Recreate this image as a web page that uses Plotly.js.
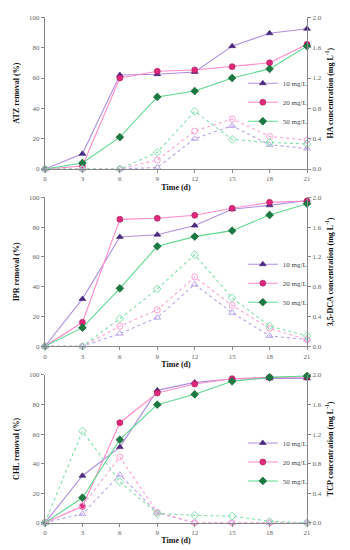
<!DOCTYPE html>
<html><head><meta charset="utf-8">
<script src="https://cdn.plot.ly/plotly-3.0.1.min.js"></script>
<style>html,body{margin:0;padding:0;background:#fff}#chart{width:350px;height:550px}</style>
</head><body><div id="chart"></div>
<script>
const days = [0, 3, 6, 9, 12, 15, 18, 21];
const seriesNames = ["10 mg/L", "20 mg/L", "50 mg/L"];

// Panel 1: ATZ removal (%) and HA concentration (mg/L)
const atz10 = [0, 10, 62, 62.5, 64, 81, 89.5, 92.5];
const atz20 = [0, 2, 60, 64.4, 65.3, 67.5, 70, 82.2];
const atz50 = [0, 4, 21, 47.5, 51.4, 60, 66, 81];
const ha10 = [0, 0, 0, 0.02, 0.40, 0.57, 0.32, 0.27];
const ha20 = [0, 0, 0, 0.12, 0.50, 0.66, 0.43, 0.38];
const ha50 = [0, 0, 0, 0.22, 0.76, 0.39, 0.35, 0.33];

// Panel 2: IPR removal (%) and 3,5-DCA concentration (mg/L)
const ipr10 = [0, 31.8, 73.4, 74.9, 81, 92, 94.6, 97.8];
const ipr20 = [0, 16.1, 85.2, 85.9, 87.9, 92.6, 96.6, 97.5];
const ipr50 = [0, 12.5, 38.9, 67.1, 73.6, 77.6, 88.1, 95.7];
const dca10 = [0, 0, 0.17, 0.385, 0.83, 0.45, 0.14, 0.09];
const dca20 = [0, 0, 0.27, 0.49, 0.93, 0.55, 0.24, 0.09];
const dca50 = [0, 0, 0.37, 0.77, 1.23, 0.65, 0.27, 0.14];

// Panel 3: CHL removal (%) and TCP concentration (mg/L)
const chl10 = [0, 31.8, 51.2, 89.6, 95, 97.3, 97.7, 97.7];
const chl20 = [0, 11, 67.7, 87.8, 93.9, 97.5, 98.4, 98.6];
const chl50 = [0, 16.9, 56.2, 79.9, 86.9, 95.7, 98.4, 99.3];
const tcp10 = [0, 0.12, 0.65, 0.135, 0, 0, 0, 0];
const tcp20 = [0, 0.23, 0.89, 0.14, 0, 0, 0, 0];
const tcp50 = [0, 1.24, 0.555, 0.126, 0.10, 0.09, 0.02, 0];

const xTicks = [0, 3, 6, 9, 12, 15, 18, 21];
const yTicksL = [0, 20, 40, 60, 80, 100];
const yTicksR = [0, 0.4, 0.8, 1.2, 1.6, 2.0];
const leftTitles = ["ATZ removal (%)", "IPR removal (%)", "CHL removal (%)"];
const rightTitles = ["HA concentration (mg L<sup>-1</sup>)", "3,5-DCA concentration (mg L<sup>-1</sup>)", "TCP concentration (mg L<sup>-1</sup>)"];
const xTitle = "Time (d)";

const lineCol = ["#b08ee0", "#ff8ccb", "#5fd88e"];
const markCol = ["#4b2a85", "#e0287c", "#1a7a42"];
const markLine = ["#3a1f6a", "#a81a5a", "#0f5a2e"];
const dashCol = ["#b9a2ea", "#ffa2d4", "#7fe0a8"];
const symbols = ["triangle-up", "circle", "diamond"];
const openSym = ["triangle-up-open", "circle-open", "diamond-open"];

const panels = [
  {rem: [atz10, atz20, atz50], conc: [ha10, ha20, ha50]},
  {rem: [ipr10, ipr20, ipr50], conc: [dca10, dca20, dca50]},
  {rem: [chl10, chl20, chl50], conc: [tcp10, tcp20, tcp50]}
];

const domains = [[0.6927, 0.9685], [0.3704, 0.6413], [0.0496, 0.3182]];
const legendY = [0.875, 0.546, 0.221];
const serif = "Liberation Serif, Times New Roman, serif";

const data = [];
const layout = {
  width: 350, height: 550,
  margin: {l: 45, r: 43, t: 0, b: 0},
  paper_bgcolor: "#fff", plot_bgcolor: "#fff",
  font: {family: serif, size: 7, color: "#555"}
};

panels.forEach((p, i) => {
  const n = i + 1;
  const xa = "x" + (i === 0 ? "" : n);
  const ylName = 2 * i + 1 === 1 ? "" : String(2 * i + 1);
  const yl = "y" + ylName;
  const yr = "y" + (2 * i + 2);
  const leg = i === 0 ? "legend" : "legend" + n;
  p.conc.forEach((c, k) => {
    data.push({
      x: days, y: c, xaxis: xa, yaxis: yr, type: "scatter", mode: "lines+markers",
      showlegend: false, cliponaxis: false,
      line: {color: dashCol[k], width: 1.1, dash: "dot"},
      marker: {symbol: openSym[k], size: 6, color: dashCol[k], line: {width: 1, color: dashCol[k]}}
    });
  });
  p.rem.forEach((r, k) => {
    data.push({
      x: days, y: r, xaxis: xa, yaxis: yl, type: "scatter", mode: "lines+markers",
      name: seriesNames[k], legend: leg, cliponaxis: false,
      line: {color: lineCol[k], width: 1.1},
      marker: {symbol: symbols[k], size: 6, color: markCol[k], line: {width: 0.6, color: markLine[k]}}
    });
  });
  layout["xaxis" + (i === 0 ? "" : n)] = {
    domain: [0, 1], anchor: yl, range: [0, 21], tickvals: xTicks,
    showline: true, linecolor: "#888", linewidth: 1, ticks: "outside", ticklen: 3, tickcolor: "#888",
    showgrid: false, zeroline: false,
    tickfont: {family: serif, size: 7, color: "#666"},
    title: {text: "<b>" + xTitle + "</b>", font: {family: serif, size: 8, color: "#111"}, standoff: 1}
  };
  layout["yaxis" + ylName] = {
    domain: domains[i], anchor: xa, range: [0, 100], tickvals: yTicksL,
    showline: true, linecolor: "#888", linewidth: 1, ticks: "outside", ticklen: 3, tickcolor: "#888",
    showgrid: false, zeroline: false,
    tickfont: {family: serif, size: 7, color: "#666"},
    title: {text: "<b>" + leftTitles[i] + "</b>", font: {family: serif, size: 8, color: "#111"}, standoff: 8}
  };
  layout["yaxis" + (2 * i + 2)] = {
    domain: domains[i], anchor: xa, overlaying: yl, side: "right",
    range: [0, 2], tickvals: yTicksR, tickformat: ".1f",
    showline: true, linecolor: "#888", linewidth: 1, ticks: "outside", ticklen: 3, tickcolor: "#888",
    showgrid: false, zeroline: false,
    tickfont: {family: serif, size: 7, color: "#666"},
    title: {text: "<b>" + rightTitles[i] + "</b>", font: {family: serif, size: 8, color: "#111"}, standoff: 6}
  };
  layout[leg] = {
    x: 0.755, xanchor: "left", y: legendY[i], yanchor: "top",
    bgcolor: "rgba(0,0,0,0)", font: {family: serif, size: 7, color: "#444"},
    itemwidth: 30, tracegroupgap: 0
  };
});

Plotly.newPlot("chart", data, layout, {staticPlot: true});
</script></body></html>
